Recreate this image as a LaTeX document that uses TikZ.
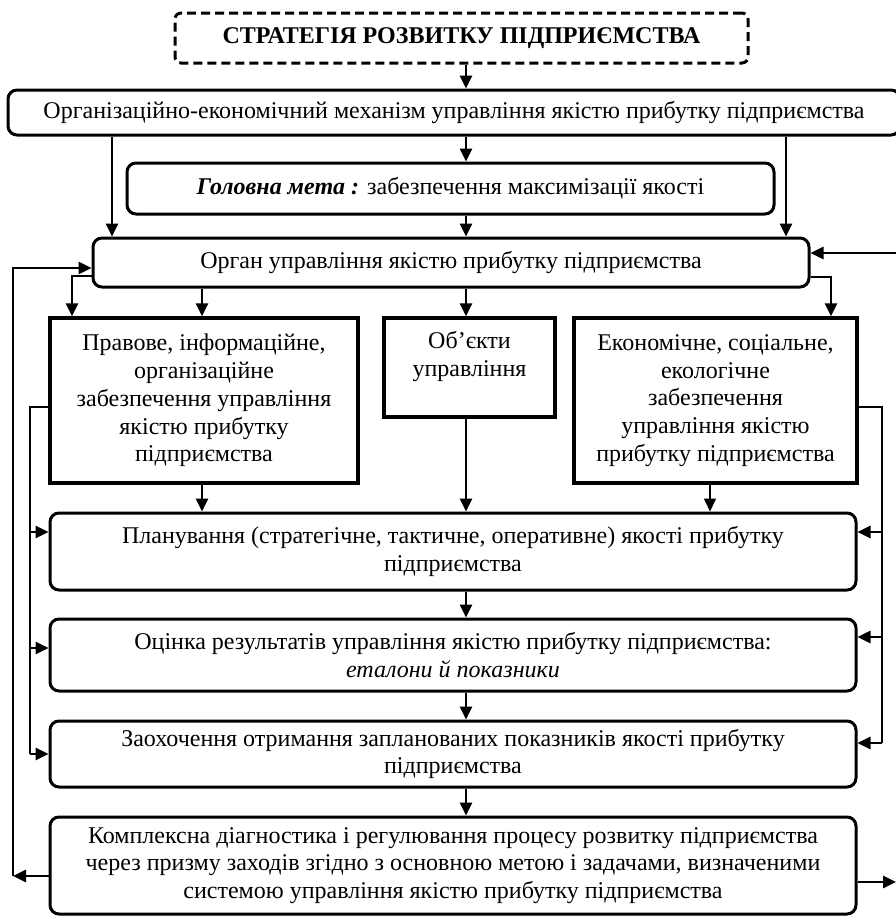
\documentclass[tikz,border=0pt]{standalone}
\usepackage{fontspec}
\setmainfont{Liberation Serif}
\usetikzlibrary{arrows.meta,positioning,calc}

\begin{document}
\begin{tikzpicture}[
  x=1pt, y=-1pt,
  font=\fontsize{24}{27.8}\selectfont,
  rbox/.style={draw, rounded corners=9pt, line width=3pt, align=center, inner sep=0pt},
  sbox/.style={draw, line width=3.2pt, align=center, inner sep=0pt},
  dbox/.style={draw, dashed, dash pattern=on 9pt off 5pt, rounded corners=6pt, line width=3pt, inner sep=0pt},
  arrow/.style={-{Triangle[length=13pt,width=12pt]}, line width=2.6pt},
  thinarrow/.style={-{Triangle[length=13pt,width=12pt]}, line width=1.6pt}
]
\useasboundingbox (0,0) rectangle (896,916);
\clip (0,0) rectangle (896,916);

\node[dbox, minimum width=573pt, minimum height=50pt, font=\fontsize{24}{27.8}\selectfont\bfseries] (title) at (461.5,38) {СТРАТЕГІЯ РОЗВИТКУ ПІДПРИЄМСТВА};
\node[rbox, minimum width=892pt, minimum height=45pt] (mech) at (454,112.5) {Організаційно-економічний механізм управління якістю прибутку підприємства};
\node[rbox, minimum width=647pt, minimum height=51pt] (goal) at (450.5,188.5) {\textbf{\textit{Головна мета :}} забезпечення максимізації якості};
\node[rbox, minimum width=716pt, minimum height=49pt] (organ) at (451,262.5) {Орган управління якістю прибутку підприємства};

\node[sbox, minimum width=308pt, minimum height=165pt] (prav) at (204,400.5) {Правове, інформаційне,\\організаційне\\забезпечення управління\\якістю прибутку\\підприємства};
\node[sbox, minimum width=171pt, minimum height=99pt] (obj) at (469.5,367.5) {Об’єкти\\управління\\\mbox{}};
\node[sbox, minimum width=283pt, minimum height=165pt] (econ) at (715.5,400.5) {Економічне, соціальне,\\екологічне\\забезпечення\\управління якістю\\прибутку підприємства};

\node[rbox, minimum width=806pt, minimum height=77pt] (plan) at (453,551.5) {Планування (стратегічне, тактичне, оперативне) якості прибутку\\підприємства};
\node[rbox, minimum width=806pt, minimum height=72pt] (ots) at (453,655) {Оцінка результатів управління якістю прибутку підприємства:\\\textit{еталони й показники}};
\node[rbox, minimum width=806pt, minimum height=66pt] (zaokh) at (453,754) {Заохочення отримання запланованих показників якості прибутку\\підприємства};
\node[rbox, minimum width=806pt, minimum height=97pt] (komp) at (453,865.5) {Комплексна діагностика і регулювання процесу розвитку підприємства\\через призму заходів згідно з основною метою і задачами, визначеними\\системою управління якістю прибутку підприємства};

\coordinate (col) at (466,0);
\coordinate (cornerL) at (13,876);
\coordinate (inR) at (900,253);
\coordinate (outR) at (896,882);
\coordinate (feedL) at (30,0);
\coordinate (feedR) at (882,0);

% central column
\draw[arrow] (title.south -| col) -- (mech.north -| col);
\draw[arrow] (mech.south -| col) -- (goal.north -| col);
\draw[arrow] (goal.south -| col) -- (organ.north -| col);
\draw[arrow] (mech.south -| 112,0) -- (organ.north -| 112,0);
\draw[arrow] (mech.south -| 786,0) -- (organ.north -| 786,0);

% to the three blocks
\draw[arrow] (organ.south -| 202,0) -- (prav.north -| 202,0);
\draw[arrow] (organ.south -| col) -- (obj.north -| col);
\draw[arrow] ([yshift=-13.5pt]organ.west) -| (prav.north -| 72,0);
\draw[arrow] ([yshift=-14.5pt]organ.east) -| (econ.north -| 831,0);
\draw[arrow] (inR) -- (organ.east |- inR);

% to planning
\draw[arrow] (prav.south -| 202,0) -- (plan.north -| 202,0);
\draw[arrow] (obj.south -| col) -- (plan.north -| col);
\draw[thinarrow] (econ.south -| 710,0) -- (plan.north -| 710,0);

% lower chain
\draw[arrow] (plan.south -| col) -- (ots.north -| col);
\draw[arrow] (ots.south -| col) -- (zaokh.north -| col);
\draw[arrow] (zaokh.south -| col) -- (komp.north -| col);

% left feedback
\draw[line width=2.6pt] ([yshift=-6.5pt]prav.west) -| (feedL |- zaokh.west);
\draw[arrow] (feedL |- 0,532) -- (plan.west |- 0,532);
\draw[arrow] (feedL |- 0,648) -- (ots.west |- 0,648);
\draw[arrow] (feedL |- zaokh.west) -- (zaokh.west);

% right feedback
\draw[line width=2pt] ([yshift=-6.5pt]econ.east) -| (feedR |- 0,743);
\draw[arrow] (feedR |- 0,532) -- (plan.east |- 0,532);
\draw[arrow] (feedR |- 0,637) -- (ots.east |- 0,637);
\draw[arrow] (feedR |- 0,743) -- (zaokh.east |- 0,743);

% outer loop
\draw[arrow] (komp.west |- cornerL) -- (cornerL);
\draw[arrow] (cornerL) |- ([yshift=-5.5pt]organ.west);
\draw[arrow] (komp.east |- outR) -- (outR);
\end{tikzpicture}
\end{document}
